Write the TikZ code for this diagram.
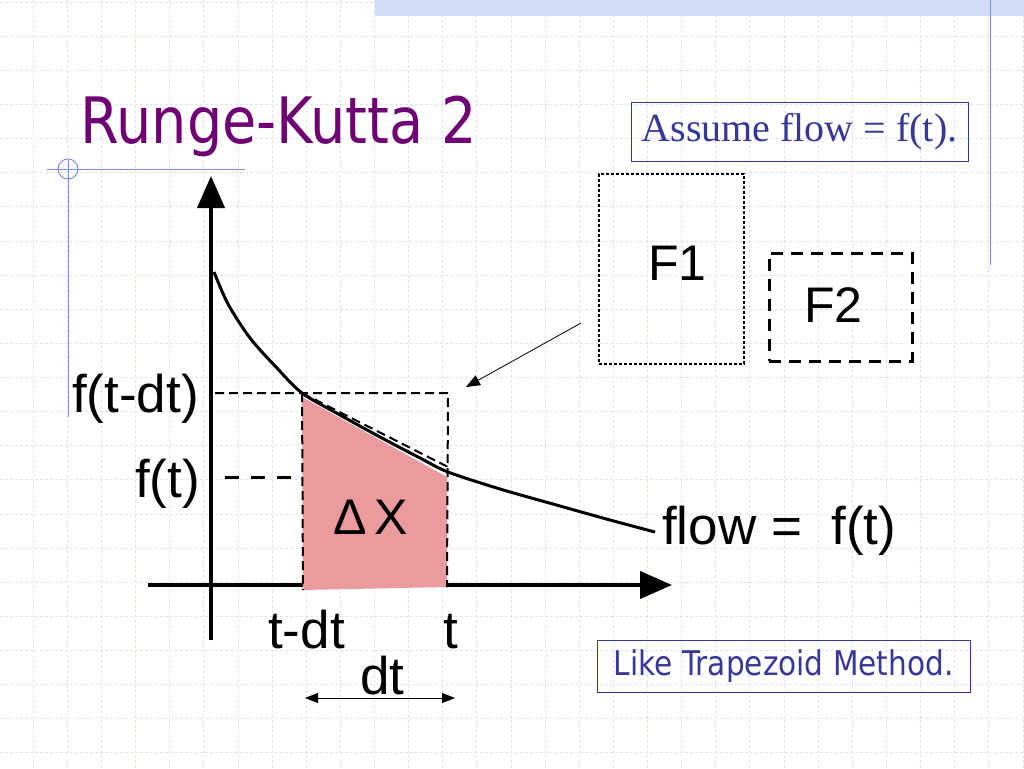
\documentclass[tikz,border=0pt]{standalone}
\usepackage{fontspec}
\setmainfont{Liberation Sans}
\newfontfamily\tahomafont[FakeStretch=0.87]{DejaVu Sans}
\newfontfamily\timesfont{Liberation Serif}
\usetikzlibrary{arrows.meta}
\definecolor{slidegrid}{RGB}{224,227,244}
\definecolor{slideband}{RGB}{208,219,245}
\definecolor{ornament}{RGB}{125,145,225}
\definecolor{titlepurple}{RGB}{110,0,115}
\definecolor{notecolor}{RGB}{55,55,150}
\definecolor{areapink}{RGB}{235,154,158}

\begin{document}
\begin{tikzpicture}[x=1pt,y=-1pt,
	gridline/.style={ slidegrid, line width=0.8pt, dash pattern=on 3pt off 2pt },
	axis/.style={ line width=4pt, -{Triangle[length=32pt,width=27pt]} },
	guide/.style={ line width=2pt, dash pattern=on 9pt off 5pt },
	label/.style={ inner sep=0pt, anchor=base west, font=\fontsize{53}{60}\selectfont },
	fbox/.style={ draw, minimum width=145pt, minimum height=190pt },
	note/.style={ draw=notecolor, line width=1pt, text=notecolor, inner sep=0pt },
	pointer/.style={ line width=0.8pt, -{Triangle[length=14pt,width=11pt]} }
]
\useasboundingbox (0,0) rectangle (1024,768);
\fill[white] (0,0) rectangle (1024,768);
\foreach \k in {0,...,30} \draw[gridline] (\k*34.13-1,0) -- (\k*34.13-1,768);
\foreach \k in {0,...,22} \draw[gridline] (0,\k*34.13+2) -- (1024,\k*34.13+2);
\fill[slideband] (375,0) rectangle (1024,16);
\draw[ornament, line width=1pt] (47,169) -- (245,169);
\draw[ornament, line width=1pt] (68,160) -- (68,417);
\draw[ornament, line width=1pt] (68,169) circle[radius=10pt];
\draw[ornament, line width=1pt] (990,0) -- (990,265);

\node at (80,143) (title) [anchor=base west, inner sep=0pt, text=titlepurple, font=\tahomafont\fontsize{64}{70}\selectfont] {Runge-Kutta 2};
\node at (799.5,131.5) (assume) [note, minimum width=337pt, minimum height=59pt, font=\timesfont\fontsize{40}{44}\selectfont] {Assume flow = f(t).};
\node at (783.5,666) (like) [note, minimum width=373pt, minimum height=52pt, font=\tahomafont\fontsize{34}{40}\selectfont] {Like Trapezoid Method.};

\coordinate (yfoot) at (211,640);
\coordinate (ytip) at (211,176);
\coordinate (xfoot) at (148,585);
\coordinate (xtip) at (672,585);
\draw[axis] (yfoot) -- (ytip);
\draw[axis] (xfoot) -- (xtip);

\coordinate (a) at (302,393);
\coordinate (b) at (448,472);
\coordinate (ab) at (448,393);
\coordinate (abase) at (303,590);
\coordinate (bbase) at (447,587);
\coordinate (fa) at (215,393);
\coordinate (fb) at (225,477);
\coordinate (fc) at (302,477);
\fill[areapink] (302,397) -- (447,477) -- (bbase) -- (abase) -- cycle;
\draw[guide] (fa) -- (ab) -- (bbase);
\draw[guide] (a) -- (abase);
\draw[line width=3pt, dash pattern=on 14pt off 12pt] (fb) -- (fc);
\draw[guide] (a) -- (448,467);
\draw[line width=3pt] plot[smooth] coordinates {(214,272) (228,304) (250,338) (276,367) (302,393) (340,415) (380,437) (420,458) (448,472) (500,489) (560,506) (610,520) (655,532)};

\node at (72,412) (lfa) [label] {f(t-dt)};
\node at (135,497) (lfb) [label] {f(t)};
\node at (268,648) (lta) [label] {t-dt};
\node at (443,648) (ltb) [label] {t};
\node at (360,694) (ldt) [label] {dt};
\node at (662,544) (lflow) [label] {flow = \ f(t)};
\node at (333,534) (ldx) [label, font=\fontsize{50}{56}\selectfont] {Δ\,X};

\node at (671.5,269) (fone) [fbox, line width=2pt, dash pattern=on 3pt off 2pt] {};
\node at (840.5,307) (ftwo) [fbox, line width=3pt, dash pattern=on 12pt off 8pt, minimum width=143pt, minimum height=108pt] {};
\node at (648,280) (lfone) [label, font=\fontsize{50}{54}\selectfont] {F1};
\node at (804,322) (lftwo) [label, font=\fontsize{50}{54}\selectfont] {F2};

\coordinate (ptail) at (581,323);
\coordinate (phead) at (466,387);
\draw[pointer] (ptail) -- (phead);

\coordinate (dtl) at (305,698);
\coordinate (dtr) at (455,698);
\draw[line width=0.8pt, {Triangle[length=13pt,width=10pt]}-{Triangle[length=13pt,width=10pt]}] (dtl) -- (dtr);

\end{tikzpicture}
\end{document}
